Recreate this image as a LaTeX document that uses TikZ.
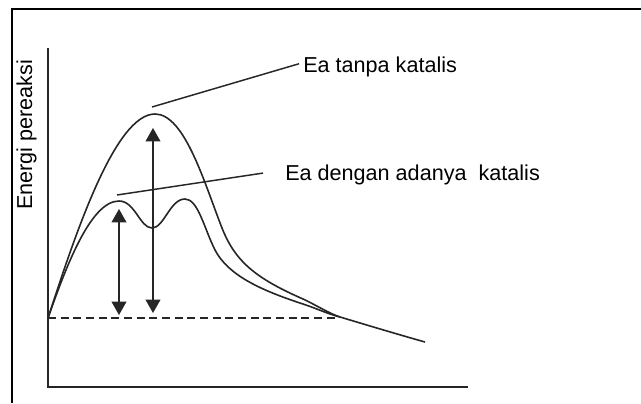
\documentclass[tikz,border=0pt]{standalone}
\usepackage{fontspec}
\setmainfont{Liberation Sans}
\usetikzlibrary{arrows.meta}

\begin{document}
\begin{tikzpicture}[
        x=0.75pt, y=-0.75pt,
        >={Triangle[length=10pt,width=11pt]},
        font=\fontsize{16.2}{19}\selectfont,
        % Linien-Stile
        frameline/.style={line width=1.2pt, draw=black},
        axis/.style={line width=1.4pt, draw=black!85},
        curve/.style={line width=1.2pt, draw=black!85},
        levelline/.style={line width=1.3pt, draw=black!85, dash pattern=on 6pt off 3.5pt},
        energy/.style={<->, line width=1.3pt, draw=black!85, fill=black!85},
        leader/.style={line width=1.1pt, draw=black!85},
        caption/.style={anchor=base west, inner sep=3pt}
    ]
    \useasboundingbox (0,0) rectangle (641,403);

    % ==========================================
    % 1. RAHMEN UND ACHSEN
    % ==========================================
    \draw[frameline] (641,9) -- (12,9) -- (12,403);

    \coordinate (ytop)   at (48,48);
    \coordinate (origin) at (48,387);
    \coordinate (xend)   at (468,387);
    \draw[axis] (ytop) -- (origin) -- (xend);

    \node[rotate=90, anchor=base west, inner sep=0pt] (ylabel) at (32,210) {Energi pereaksi};

    % ==========================================
    % 2. KURVEN
    % ==========================================
    \coordinate (start) at (48,318);
    \coordinate (merge) at (340,317);
    \coordinate (tail)  at (425,342);

    % ohne Katalysator
    \draw[curve] (start) .. controls (75,235) and (115,114) .. (155,114)
        .. controls (185,114) and (205,185) .. (222,228)
        .. controls (235,261) and (255,278) .. (303,299)
        .. controls (318,306) and (328,313) .. (merge)
        .. controls (370,326) and (400,335) .. (tail);

    % mit Katalysator
    \draw[curve] (start) .. controls (65,270) and (90,201) .. (119,201)
        .. controls (135,201) and (140,228) .. (152,228)
        .. controls (164,228) and (170,199) .. (185,199)
        .. controls (198,199) and (204,228) .. (215,250)
        .. controls (228,275) and (260,290) .. (303,304)
        .. controls (318,309) and (328,314) .. (merge);

    % Ausgangsniveau
    \coordinate (levelend) at (336,318);
    \draw[levelline] (start) -- (levelend);

    % ==========================================
    % 3. AKTIVIERUNGSENERGIEN
    % ==========================================
    \coordinate (catlow)  at (119,315);
    \coordinate (cathigh) at (119,209);
    \coordinate (unclow)  at (153,313);
    \coordinate (unchigh) at (153,128);
    \draw[energy] (catlow) -- (cathigh);
    \draw[energy] (unclow) -- (unchigh);

    % Beschriftungen
    \node[caption] (tanpa)  at (299,72)  {Ea tanpa katalis};
    \node[caption] (dengan) at (281,180) {Ea dengan adanya~ katalis};

    \coordinate (tanpafoot)  at (152,107);
    \coordinate (denganfoot) at (117,195);
    \draw[leader] (tanpafoot) -- ([yshift=2pt]tanpa.west);
    \draw[leader] (denganfoot) -- ([xshift=-13.5pt,yshift=1pt]dengan.west);

\end{tikzpicture}
\end{document}
